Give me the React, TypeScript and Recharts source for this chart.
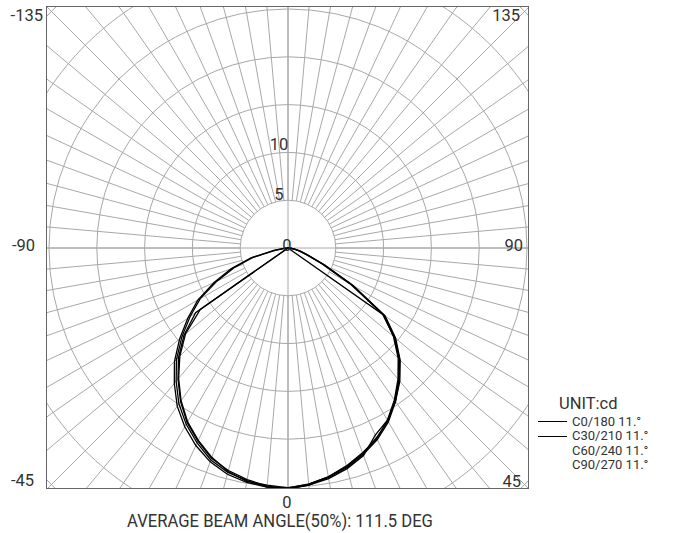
import React from 'react'
import { PolarAngleAxis, PolarGrid, PolarRadiusAxis, Radar, RadarChart } from 'recharts'

// gamma angles, 0 = straight down, read every 5 deg
const GAMMA = [0, 5, 10, 15, 20, 25, 30, 35, 40, 45, 50, 55, 60, 65, 70, 75, 80, 85, 90]

// right half of the diagram (C0 / C30 / C60 / C90), cd
const C0 = [25.2, 24.9, 24.4, 23.8, 23.0, 22.1, 21.0, 19.6, 18.1, 16.5, 14.6, 12.3, 7.7, 4.1, 2.2, 1.3, 0.7, 0.3, 0]
const C30 = [25.1, 24.8, 24.3, 23.7, 22.9, 21.9, 20.9, 19.5, 18.0, 16.4, 14.5, 12.1, 7.5, 3.9, 2.1, 1.2, 0.6, 0.2, 0]
const C60 = [25.2, 24.9, 24.5, 23.9, 23.1, 21.6, 20.8, 19.6, 18.2, 16.6, 14.7, 12.4, 7.9, 4.3, 2.3, 1.4, 0.7, 0.3, 0]
const C90 = [25.1, 24.8, 24.3, 23.6, 22.8, 22.0, 20.8, 19.4, 17.9, 16.3, 14.4, 12.2, 0, 0, 0, 0, 0, 0, 0]

// left half (C180 / C210 / C240 / C270), cd
const C180 = [25.2, 25.1, 24.9, 24.5, 23.8, 22.8, 21.6, 20.2, 18.5, 16.8, 14.8, 12.8, 10.9, 8.5, 6.3, 4.0, 1.5, 0.4, 0]
const C210 = [25.2, 25.1, 24.7, 24.3, 23.6, 22.5, 21.3, 19.9, 18.2, 16.5, 14.5, 12.5, 10.6, 8.2, 6.0, 3.8, 1.3, 0.3, 0]
const C240 = [25.1, 25.0, 24.6, 24.1, 23.4, 22.3, 21.1, 19.6, 17.9, 16.2, 14.2, 11.8, 0, 0, 0, 0, 0, 0, 0]
const C270 = [25.1, 24.9, 24.8, 24.2, 23.3, 22.2, 21.0, 19.5, 17.8, 16.0, 14.0, 11.2, 0, 0, 0, 0, 0, 0, 0]

const SERIES = [
  { key: 'c0', name: 'C0/180 11.°', right: C0, left: C180, mark: true },
  { key: 'c30', name: 'C30/210 11.°', right: C30, left: C210, mark: true },
  { key: 'c60', name: 'C60/240 11.°', right: C60, left: C240, mark: false },
  { key: 'c90', name: 'C90/270 11.°', right: C90, left: C270, mark: false },
]

const RADIUS_TICKS = [0, 5, 10]
const RINGS = [5, 10, 15, 20, 25, 30, 35]

const UNIT_PX = 9.56
const SIZE = 700
const MID = SIZE / 2
const START = -90
const FONT = "Roboto, 'Liberation Sans', sans-serif"

// 72 points round the circle, 0 at the bottom, going through the right side
const rows = Array.from({ length: 72 }, (_, k) => {
  const row: Record<string, number> = { angle: k * 5 }
  SERIES.forEach((s) => {
    if (k < GAMMA.length) row[s.key] = s.right[k]
    else if (k >= 72 - 18) row[s.key] = s.left[72 - k]
    else row[s.key] = 0
  })
  return row
})
const spokes = rows.map((r) => r.angle + START)

const RadiusTick = (props: any) => {
  const { x, y, payload } = props
  if (!RADIUS_TICKS.includes(payload.value)) return null
  const v = payload.value
  const dy = v === 0 ? -3 : v === 5 ? -6 : -8
  return (
    <text x={x + (v === 0 ? -1 : -9)} y={y + dy} textAnchor="middle" dominantBaseline="central" fontSize={16.5} fill="#333" fontFamily={FONT}>
      {v}
    </text>
  )
}

const Label = ({ x, y, text, align = 'center', size = 16.5, squeeze = 1 }: any) => {
  const tx = align === 'center' ? '-50%' : align === 'right' ? '-100%' : '0'
  const origin = align === 'center' ? 'center center' : align === 'right' ? 'right center' : 'left center'
  return (
    <div
      style={{
        position: 'absolute',
        left: x,
        top: y,
        transform: `translate(${tx}, -50%) scaleX(${squeeze})`,
        transformOrigin: origin,
        fontSize: size,
        lineHeight: 1,
        color: '#333',
        whiteSpace: 'nowrap',
      }}
    >
      {text}
    </div>
  )
}

const margin = { top: 0, right: 0, bottom: 0, left: 0 }

export default function App() {
  const outer = 35 * UNIT_PX
  return (
    <div style={{ position: 'absolute', left: 0, top: 0, width: 676, height: 533, background: '#fff', fontFamily: FONT }}>
      <div style={{ position: 'absolute', left: 46, top: 6, width: 483, height: 483, border: '1px solid #666', boxSizing: 'border-box', overflow: 'hidden' }}>
        {/* rings and 5 deg spokes, spokes start at the first ring */}
        <div style={{ position: 'absolute', left: -109.5, top: -109.5 }}>
          <RadarChart width={SIZE} height={SIZE} cx={MID} cy={MID} innerRadius={5 * UNIT_PX} outerRadius={360} startAngle={START} endAngle={START + 360} data={rows} margin={margin}>
            <PolarGrid gridType="circle" polarRadius={RINGS.map((v) => v * UNIT_PX)} polarAngles={spokes} stroke="#a8a8a8" strokeOpacity={1} />
            <PolarAngleAxis dataKey="angle" type="number" domain={[0, 360]} tick={false} axisLine={false} />
            <PolarRadiusAxis domain={[0, 35]} tick={false} axisLine={false} />
            <Radar dataKey="c0" stroke="none" fill="none" dot={false} isAnimationActive={false} />
          </RadarChart>
        </div>
        {/* axes cross + curves */}
        <div style={{ position: 'absolute', left: -109.5, top: -109.5 }}>
          <RadarChart width={SIZE} height={SIZE} cx={MID} cy={MID} innerRadius={0} outerRadius={outer} startAngle={START} endAngle={START + 360} data={rows} margin={margin}>
            <PolarGrid gridType="circle" polarRadius={[]} polarAngles={[0, 90, 180, 270]} stroke="#a8a8a8" strokeOpacity={1} />
            <PolarAngleAxis dataKey="angle" type="number" domain={[0, 360]} tick={false} axisLine={false} />
            <PolarRadiusAxis domain={[0, 35]} tickCount={8} angle={90} axisLine={false} tickLine={false} tick={<RadiusTick />} />
            {SERIES.map((s) => (
              <Radar key={s.key} name={s.name} dataKey={s.key} stroke="#000" strokeWidth={1.3} fill="none" fillOpacity={0} dot={false} isAnimationActive={false} />
            ))}
          </RadarChart>
        </div>
      </div>

      <Label x={43} y={16} text="-135" align="right" />
      <Label x={520} y={16} text="135" align="right" />
      <Label x={35} y={246} text="-90" align="right" />
      <Label x={523} y={246} text="90" align="right" />
      <Label x={34} y={481} text="-45" align="right" />
      <Label x={521} y={482} text="45" align="right" />
      <Label x={287} y={503} text="0" />
      <Label x={280} y={522} text="AVERAGE BEAM ANGLE(50%): 111.5 DEG" size={17.5} squeeze={0.95} />

      <Label x={559} y={404} text="UNIT:cd" align="left" size={16.5} />
      {SERIES.map((s, i) => (
        <React.Fragment key={s.key}>
          {s.mark && <div style={{ position: 'absolute', left: 538, top: 421 + i * 14.6, width: 29, borderTop: '1.3px solid #000' }} />}
          <Label x={572} y={420.5 + i * 14.6} text={s.name} align="left" size={13} squeeze={1} />
        </React.Fragment>
      ))}
    </div>
  )
}
